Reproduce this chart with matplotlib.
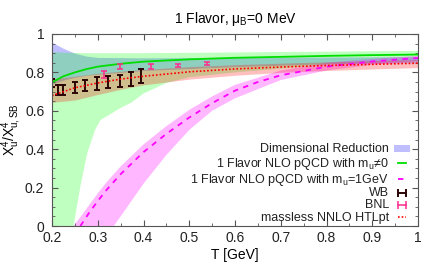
import numpy as np
import matplotlib
matplotlib.use("Agg")
import matplotlib.pyplot as plt
from matplotlib.lines import Line2D
from matplotlib.patches import Patch
from matplotlib.ticker import MultipleLocator, FuncFormatter

plt.rcParams['font.family'] = ['Liberation Sans', 'DejaVu Sans']
plt.rcParams['mathtext.fontset'] = 'custom'
plt.rcParams['mathtext.rm'] = 'Liberation Sans'
plt.rcParams['mathtext.it'] = 'Liberation Sans:italic'

# ---------------------------------
# Data
# ---------------------------------
# Dimensional reduction band
dr_T = [0.2, 0.225, 0.25, 0.275, 0.3, 0.4, 0.6, 0.8, 1.0]
dr_hi = [0.957, 0.925, 0.9, 0.885, 0.878, 0.876, 0.878, 0.88, 0.882]
dr_lo = [0.74, 0.76, 0.775, 0.785, 0.79, 0.81, 0.83, 0.845, 0.85]

# 1 flavor NLO pQCD with m_u != 0
nlo_T = [0.2, 0.225, 0.25, 0.275, 0.3, 0.35, 0.4, 0.5, 0.6, 0.7, 0.8, 0.9, 1.0]
nlo_mid = [0.748, 0.78, 0.80, 0.817, 0.83, 0.845, 0.856, 0.868, 0.876, 0.881, 0.886, 0.89, 0.893]
nlo_hi = [0.905, 0.903, 0.901, 0.9, 0.9, 0.9, 0.9, 0.902, 0.904, 0.906, 0.908, 0.91, 0.912]
nlo_lo_T = [0.2, 0.247, 0.262, 0.277, 0.294, 0.306, 0.35, 0.375, 0.4, 0.45, 0.5, 0.6, 0.8, 1.0]
nlo_lo = [0.0, 0.0, 0.205, 0.379, 0.5, 0.552, 0.615, 0.645, 0.69, 0.745, 0.775, 0.8, 0.84, 0.86]

# 1 flavor NLO pQCD with m_u = 1 GeV
mq_T = [0.262, 0.28, 0.3, 0.32, 0.35, 0.4, 0.45, 0.5, 0.55, 0.6, 0.65, 0.7, 0.8, 0.9, 1.0]
mq_mid = [0.0, 0.065, 0.13, 0.19, 0.27, 0.385, 0.48, 0.565, 0.64, 0.705, 0.75, 0.785, 0.83, 0.857, 0.875]
mq_hi_T = [0.247, 0.26, 0.28, 0.3, 0.32, 0.35, 0.4, 0.45, 0.5, 0.55, 0.6, 0.7, 0.8, 0.9, 1.0]
mq_hi = [0.0, 0.04, 0.105, 0.17, 0.23, 0.31, 0.425, 0.52, 0.605, 0.675, 0.735, 0.81, 0.85, 0.87, 0.887]
mq_lo_T = [0.335, 0.35, 0.4, 0.45, 0.5, 0.55, 0.6, 0.7, 0.8, 0.9, 1.0]
mq_lo = [0.0, 0.05, 0.22, 0.37, 0.5, 0.6, 0.665, 0.76, 0.81, 0.84, 0.86]

# massless NNLO HTLpt
htl_T = [0.2, 0.25, 0.3, 0.35, 0.4, 0.5, 0.6, 0.7, 0.8, 0.9, 1.0]
htl_mid = [0.679, 0.72, 0.745, 0.765, 0.78, 0.803, 0.818, 0.828, 0.836, 0.842, 0.848]
htl_hi = [0.766, 0.78, 0.795, 0.806, 0.815, 0.83, 0.84, 0.848, 0.855, 0.861, 0.866]
htl_lo = [0.644, 0.656, 0.685, 0.712, 0.735, 0.765, 0.785, 0.8, 0.81, 0.818, 0.825]

# lattice: WB
wb_T = [0.201, 0.213, 0.225, 0.25, 0.273, 0.298, 0.322, 0.348, 0.372, 0.395]
wb_y = [0.745, 0.71, 0.71, 0.72, 0.732, 0.741, 0.75, 0.757, 0.766, 0.78]
wb_err = [0.02, 0.026, 0.026, 0.029, 0.03, 0.033, 0.033, 0.031, 0.035, 0.037]

# lattice: BNL
bnl_T = [0.313, 0.349, 0.416, 0.475, 0.538]
bnl_y = [0.788, 0.832, 0.830, 0.836, 0.845]
bnl_err = [0.017, 0.013, 0.013, 0.01, 0.008]

labels = ["Dimensional Reduction",
          r"1 Flavor NLO pQCD with m$_\mathrm{u}$≠0",
          r"1 Flavor NLO pQCD with m$_\mathrm{u}$=1GeV",
          "WB", "BNL", "massless NNLO HTLpt"]

# ---------------------------------
# Plot
# ---------------------------------
fig = plt.figure(figsize=(4.36, 2.62), dpi=100)
ax = fig.add_axes([52 / 436, 1 - 226 / 262, 366 / 436, 192 / 262])

a = 0.25
ax.fill_between(dr_T, dr_lo, dr_hi, color=(0, 0, 1), alpha=a, lw=0)

nlo_poly_T = list(nlo_T) + list(nlo_lo_T[::-1])
nlo_poly_y = list(nlo_hi) + list(nlo_lo[::-1])
ax.fill(nlo_poly_T, nlo_poly_y, color=(0, 1, 0), alpha=a, lw=0)
ax.plot(nlo_T, nlo_mid, color="#00dd00", lw=1.3)

mq_poly_T = list(mq_hi_T) + list(mq_lo_T[::-1])
mq_poly_y = list(mq_hi) + list(mq_lo[::-1])
ax.fill(mq_poly_T, mq_poly_y, color=(1, 0, 1), alpha=0.28, lw=0)
ax.plot(mq_T, mq_mid, color="#ff00ff", lw=1.3, ls=(0, (3, 3)))

ax.errorbar(wb_T, wb_y, yerr=wb_err, fmt="none", ecolor="#2a0505",
            elinewidth=1.4, capsize=2.5, capthick=1.4)
ax.errorbar(bnl_T, bnl_y, yerr=bnl_err, fmt="none", ecolor="#ff2a8c",
            elinewidth=1.1, capsize=2.5, capthick=1.1)

ax.fill_between(htl_T, htl_lo, htl_hi, color=(1, 0, 0), alpha=a, lw=0)
ax.plot(htl_T, htl_mid, color="#ff0000", lw=1.2, ls=(0, (1, 1.2)))

ax.set_xlim(0.2, 1.0)
ax.set_ylim(0, 1)
ax.xaxis.set_major_locator(MultipleLocator(0.1))
ax.xaxis.set_minor_locator(MultipleLocator(0.05))
ax.yaxis.set_major_locator(MultipleLocator(0.2))
ax.yaxis.set_minor_locator(MultipleLocator(0.05))
fmt = FuncFormatter(lambda v, p: "%g" % round(v, 2))
ax.xaxis.set_major_formatter(fmt)
ax.yaxis.set_major_formatter(fmt)
ax.tick_params(which="both", direction="in", top=True, right=True,
               colors="#555555", labelcolor="#222222", labelsize=10)
ax.tick_params(which="major", length=4)
ax.tick_params(which="minor", length=2)
ax.tick_params(axis="y", pad=5.5)
for s in ax.spines.values():
    s.set_color("#555555")
    s.set_linewidth(0.8)

ax.set_xlabel("T [GeV]", fontsize=10, labelpad=2)
ax.set_ylabel(r"X$^4_\mathrm{u}$/X$^4_\mathrm{u,SB}$", fontsize=10, labelpad=1)
ax.set_title(r"1 Flavor, μ$_\mathrm{B}$=0 MeV", fontsize=10, pad=8)

handles = [
    Patch(facecolor=(0.75, 0.75, 1.0), edgecolor="none"),
    Line2D([], [], color="#00dd00", lw=1.3),
    Line2D([], [], color="#ff00ff", lw=1.3, ls=(0, (3, 3))),
    Line2D([0, 1], [0, 0], color="#2a0505", lw=1.4, marker="|", ms=6, mew=1.4),
    Line2D([0, 1], [0, 0], color="#ff2a8c", lw=1.1, marker="|", ms=6, mew=1.1),
    Line2D([], [], color="#ff0000", lw=1.2, ls=(0, (1, 1.2))),
]
leg = ax.legend(handles, labels, loc="lower right", bbox_to_anchor=(0.985, 0.0),
                markerfirst=False, frameon=False, fontsize=9, numpoints=2,
                handlelength=1.3, handletextpad=0.4, labelspacing=0.0,
                borderpad=0.2, borderaxespad=0.0, handleheight=0.5)
for t in leg.get_texts():
    t.set_color("#222222")

fig.savefig("out.png", dpi=100)
